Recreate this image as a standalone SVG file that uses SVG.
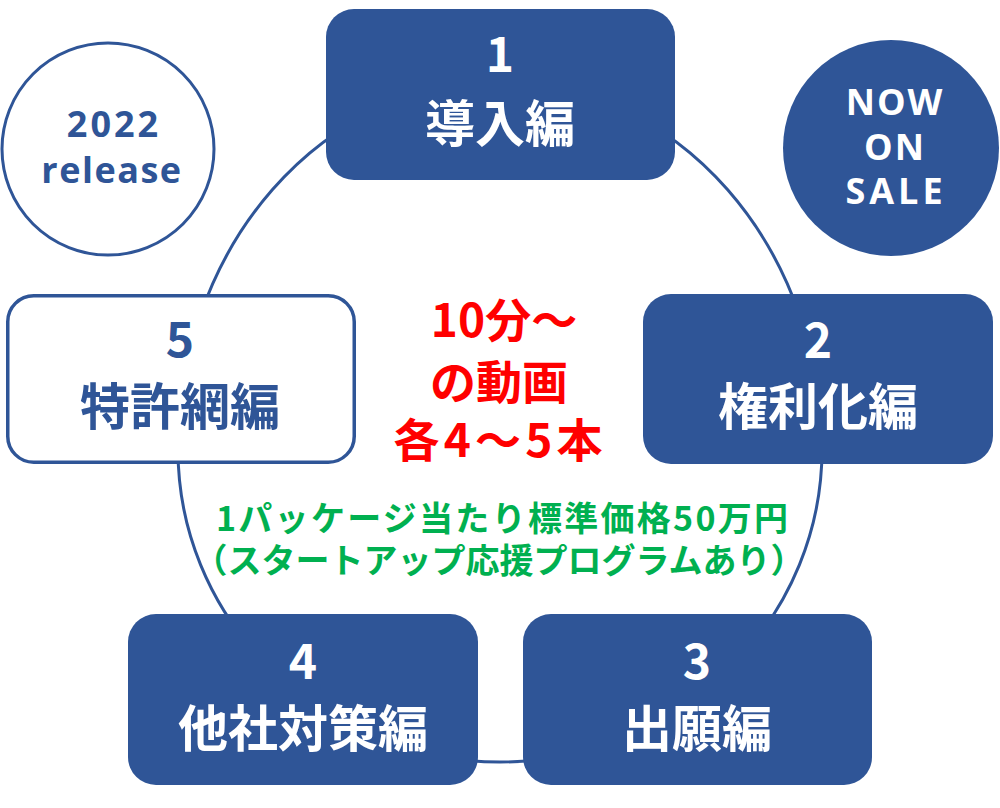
<svg xmlns="http://www.w3.org/2000/svg" width="1000" height="808" viewBox="0 0 1000 808">
  <style>
    .box { fill: #2F5597; }
    .obox { fill: #FFFFFF; stroke: #2F5597; stroke-width: 3.5; }
    .num { font-family: "Noto Sans CJK JP", "Noto Sans", sans-serif; font-weight: 700; font-size: 48px; text-anchor: middle; }
    .lbl { font-family: "Noto Sans CJK JP", sans-serif; font-weight: 700; font-size: 50px; text-anchor: middle; }
    .w { fill: #FFFFFF; }
    .b { fill: #2F5597; }
    .lat { font-family: "Open Sans", "Noto Sans", sans-serif; font-weight: 700; font-size: 36px; text-anchor: middle; }
    .red { font-family: "Noto Sans CJK JP", sans-serif; font-weight: 700; font-size: 46px; fill: #FF0000; text-anchor: middle; }
    .grn { font-family: "Noto Sans CJK JP", sans-serif; font-weight: 700; font-size: 34px; fill: #00B050; text-anchor: middle; }
  </style>
  <rect width="1000" height="808" fill="#FFFFFF"/>
  <g id="connectors">
    <path d="M 178 450 A 322 368 0 0 1 822 450 A 322 312 0 0 1 178 450 Z" fill="none" stroke="#2F5597" stroke-width="3"/>
  </g>
  <g id="badge-2022">
    <circle cx="108" cy="149" r="106" fill="#FFFFFF" stroke="#2F5597" stroke-width="3"/>
    <text class="lat b" x="114" y="137" font-size="38" letter-spacing="3">2022</text>
    <text class="lat b" x="112" y="183" letter-spacing="1.5">release</text>
  </g>
  <g id="badge-sale">
    <circle cx="891" cy="148" r="108" fill="#2F5597"/>
    <text class="lat w" x="895" y="115" letter-spacing="2">NOW</text>
    <text class="lat w" x="895" y="160" letter-spacing="2">ON</text>
    <text class="lat w" x="896" y="204" font-size="37" letter-spacing="4">SALE</text>
  </g>
  <g id="node-1">
    <rect class="box" x="326" y="9" width="349" height="171" rx="28"/>
    <text class="num w" x="500" y="72">1</text>
    <text class="lbl w" x="500" y="142">導入編</text>
  </g>
  <g id="node-2">
    <rect class="box" x="643" y="294" width="350" height="170" rx="28"/>
    <text class="num w" x="818" y="358">2</text>
    <text class="lbl w" x="818" y="425">権利化編</text>
  </g>
  <g id="node-3">
    <rect class="box" x="523" y="614" width="349" height="171" rx="28"/>
    <text class="num w" x="697" y="679">3</text>
    <text class="lbl w" x="697" y="747">出願編</text>
  </g>
  <g id="node-4">
    <rect class="box" x="128" y="614" width="350" height="171" rx="28"/>
    <text class="num w" x="303" y="679">4</text>
    <text class="lbl w" x="303" y="747">他社対策編</text>
  </g>
  <g id="node-5">
    <rect class="obox" x="7.75" y="295.75" width="346.5" height="166.5" rx="26"/>
    <text class="num b" x="180" y="357">5</text>
    <text class="lbl b" x="180" y="425">特許網編</text>
  </g>
  <g id="center-text">
    <text class="red" x="504" y="337">10分～</text>
    <text class="red" x="499" y="399">の動画</text>
    <text class="red" x="498" y="457" textLength="209">各4～5本</text>
  </g>
  <g id="price-text">
    <text class="grn" x="502" y="531" textLength="572">1パッケージ当たり標準価格50万円</text>
    <text class="grn" x="499" y="573">（スタートアップ応援プログラムあり）</text>
  </g>
</svg>
